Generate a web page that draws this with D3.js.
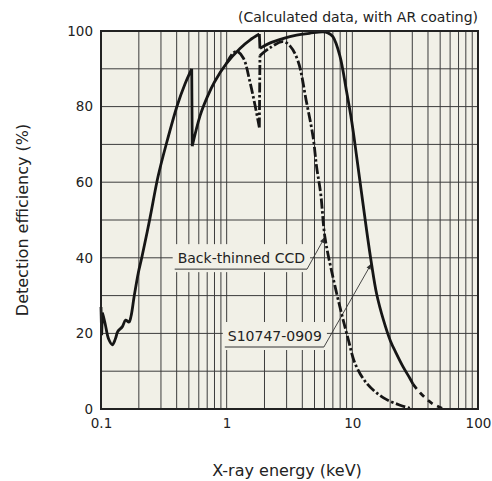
<!DOCTYPE html>
<html>
<head>
<meta charset="utf-8">
<script src="https://cdn.jsdelivr.net/npm/d3@7"></script>
<style>
  html, body { margin: 0; padding: 0; background: #ffffff; }
  svg { display: block; }
  text { font-family: "DejaVu Sans", Verdana, sans-serif; fill: #222; }
</style>
</head>
<body>
<svg id="chart" width="492" height="481"></svg>
<script>
// ---- Data ----
const xTickValues = [0.1, 1, 10, 100];
const xTickLabels = ["0.1", "1", "10", "100"];
const yTickValues = [0, 20, 40, 60, 80, 100];
const yTickLabels = ["0", "20", "40", "60", "80", "100"];

// S10747-0909 (solid line), energy in keV, efficiency in %
const s10747Energy = [0.1, 0.1012, 0.1025, 0.1045, 0.108, 0.115, 0.123, 0.13, 0.136, 0.148, 0.157, 0.167, 0.173,
  0.184, 0.198, 0.211, 0.2453, 0.2844, 0.3333, 0.406, 0.466, 0.527, 0.532, 0.613, 0.7, 0.8, 1.0, 1.276,
  1.53, 1.82, 1.84, 2.2, 2.8, 3.6, 4.56, 5.85, 6.4, 7.0, 7.95, 9.0, 9.9, 10.8, 11.8, 12.9, 14.2, 15.6,
  17.7, 20.1, 22.3, 25.3, 28.6, 30.4];
const s10747Eff = [27, 19.5, 25.5, 24.5, 22.5, 18.5, 17, 18.5, 20.5, 21.8, 23.5, 23, 24.4,
  30, 36, 40, 50.5, 61.5, 70.5, 80.5, 86, 90, 69.5, 77.5, 82.5, 86.5, 91.5, 95.4,
  97.6, 99.2, 95.4, 96.8, 98, 98.9, 99.4, 99.8, 99.5, 98.5, 93.5, 84, 76, 67, 57.5, 48, 38.5, 30.5,
  23.5, 18, 14.8, 11.2, 8.2, 6.6];
// S10747-0909 extrapolated tail (dashed)
const s10747TailEnergy = [30.4, 34.6, 43.0, 51.8];
const s10747TailEff = [6.6, 4.3, 1.5, 0.2];

// Back-thinned CCD (dash-dot line), follows the solid curve below 1 keV
const ccdEnergy = [1.0, 1.13, 1.21, 1.36, 1.53, 1.68, 1.82, 1.84, 2.2, 2.8, 3.2, 3.7, 4.3, 4.87, 5.2, 5.6,
  6.05, 7.0, 8.2, 9.3, 10.5, 13.0, 17.6, 24.0, 28.7];
const ccdEff = [91.5, 94.2, 94.6, 92.8, 86.6, 80.4, 74.5, 93.5, 95.5, 97.2, 96, 92, 81.5, 72, 64, 57,
  45.5, 35, 25.3, 18.3, 12.1, 6.8, 3.0, 1.0, 0.2];

// Annotations: text, leader start (energy, %), arrow target (energy, %)
const annotations = [
  { text: "Back-thinned CCD", fromE: 4.36, fromV: 37.0, toE: 6.05, toV: 45.5 },
  { text: "S10747-0909", fromE: 5.94, fromV: 16.4, toE: 14.2, toV: 38.5 }
];

const noteText = "(Calculated data, with AR coating)";
const xTitle = "X-ray energy (keV)";
const yTitle = "Detection efficiency (%)";

// ---- Layout ----
const plot = { left: 101, right: 478, top: 31, bottom: 409 };
const bg = "#f1f0e7";
const gridColor = "#3c3c3c";
const ink = "#161616";

const svg = d3.select("#chart");
const x = d3.scaleLog().domain([0.1, 100]).range([plot.left, plot.right]);
const y = d3.scaleLinear().domain([0, 100]).range([plot.bottom, plot.top]);

// background
svg.append("rect")
  .attr("x", plot.left).attr("y", plot.top)
  .attr("width", plot.right - plot.left).attr("height", plot.bottom - plot.top)
  .attr("fill", bg);

// grid
const grid = svg.append("g");
grid.selectAll("line.v").data(x.ticks()).join("line")
  .attr("x1", d => x(d)).attr("x2", d => x(d))
  .attr("y1", plot.top).attr("y2", plot.bottom)
  .attr("stroke", gridColor).attr("stroke-width", 1);
grid.selectAll("line.h").data(d3.range(0, 101, 10)).join("line")
  .attr("x1", plot.left).attr("x2", plot.right)
  .attr("y1", d => y(d)).attr("y2", d => y(d))
  .attr("stroke", gridColor).attr("stroke-width", 1);

// annotation boxes (hide grid behind labels)
const annG = svg.append("g");
annotations.forEach(a => {
  const ux = x(a.fromE), uy = y(a.fromV);
  const t = annG.append("text")
    .attr("font-size", 14)
    .attr("text-anchor", "end")
    .attr("x", ux - 2).attr("y", uy - 6)
    .text(a.text);
  const w = t.node().getComputedTextLength();
  const left = ux - 2 - w;
  annG.insert("rect", "text")
    .attr("x", left - 5).attr("y", uy - 25)
    .attr("width", w + 10).attr("height", 28)
    .attr("fill", bg);
  annG.append("line")
    .attr("x1", left - 3).attr("x2", ux).attr("y1", uy).attr("y2", uy)
    .attr("stroke", "#333").attr("stroke-width", 1);
  // leader with arrow head
  const tx = x(a.toE), ty = y(a.toV);
  annG.append("line")
    .attr("x1", ux).attr("y1", uy).attr("x2", tx).attr("y2", ty)
    .attr("stroke", "#333").attr("stroke-width", 0.9);
  const ang = Math.atan2(ty - uy, tx - ux);
  const L = 6, W = 2.2;
  const bx = tx - L * Math.cos(ang), by = ty - L * Math.sin(ang);
  annG.append("path")
    .attr("d", `M${tx},${ty}L${bx - W * Math.sin(ang)},${by + W * Math.cos(ang)}L${bx + W * Math.sin(ang)},${by - W * Math.cos(ang)}Z`)
    .attr("fill", "#333");
});

// curves
const line = d3.line().x(d => x(d[0])).y(d => y(d[1])).curve(d3.curveCatmullRom.alpha(0.5));
const zip = (a, b) => a.map((v, i) => [v, b[i]]);

function smoothPath(pts) {
  // split at absorption edges (near-identical x) to keep each edge sharp
  const segs = [];
  let cur = [pts[0]];
  for (let i = 1; i < pts.length; i++) {
    const p = pts[i], q = pts[i - 1];
    if (Math.abs(x(p[0]) - x(q[0])) < 1.5) { segs.push(cur); segs.push([q, p]); cur = [p]; }
    else cur.push(p);
  }
  segs.push(cur);
  return segs.filter(s => s.length > 1).map(s => line(s)).join("");
}

svg.append("path")
  .attr("d", smoothPath(zip(ccdEnergy, ccdEff)))
  .attr("fill", "none").attr("stroke", ink).attr("stroke-width", 2.8)
  .attr("stroke-dasharray", "10,2.5,2.5,2.5");

svg.append("path")
  .attr("d", smoothPath(zip(s10747Energy, s10747Eff)))
  .attr("fill", "none").attr("stroke", ink).attr("stroke-width", 2.8)
  .attr("stroke-linejoin", "round");

svg.append("path")
  .attr("d", line(zip(s10747TailEnergy, s10747TailEff)))
  .attr("fill", "none").attr("stroke", ink).attr("stroke-width", 2.8)
  .attr("stroke-dasharray", "6,5");

// frame
svg.append("rect")
  .attr("x", plot.left).attr("y", plot.top)
  .attr("width", plot.right - plot.left).attr("height", plot.bottom - plot.top)
  .attr("fill", "none").attr("stroke", "#222").attr("stroke-width", 2);

// axes
const yAxis = d3.axisLeft(y).tickValues(yTickValues).tickSize(0).tickPadding(8)
  .tickFormat((d, i) => yTickLabels[i]);
const gy = svg.append("g").attr("transform", `translate(${plot.left},0)`).call(yAxis);
gy.select(".domain").remove();
gy.selectAll("text").attr("font-size", 13.5).attr("font-family", "DejaVu Sans").attr("fill", "#222");

const xAxis = d3.axisBottom(x).tickValues(xTickValues).tickSize(0).tickPadding(9)
  .tickFormat((d, i) => xTickLabels[i]);
const gx = svg.append("g").attr("transform", `translate(0,${plot.bottom})`).call(xAxis);
gx.select(".domain").remove();
gx.selectAll("text").attr("font-size", 13.5).attr("font-family", "DejaVu Sans").attr("fill", "#222");

// titles
svg.append("text").attr("x", plot.right).attr("y", 22).attr("text-anchor", "end")
  .attr("font-size", 14).text(noteText);
svg.append("text").attr("x", 287).attr("y", 476).attr("text-anchor", "middle")
  .attr("font-size", 16).text(xTitle);
svg.append("text").attr("transform", `translate(28,${(plot.top + plot.bottom) / 2}) rotate(-90)`)
  .attr("text-anchor", "middle").attr("font-size", 16).text(yTitle);
</script>
</body>
</html>
